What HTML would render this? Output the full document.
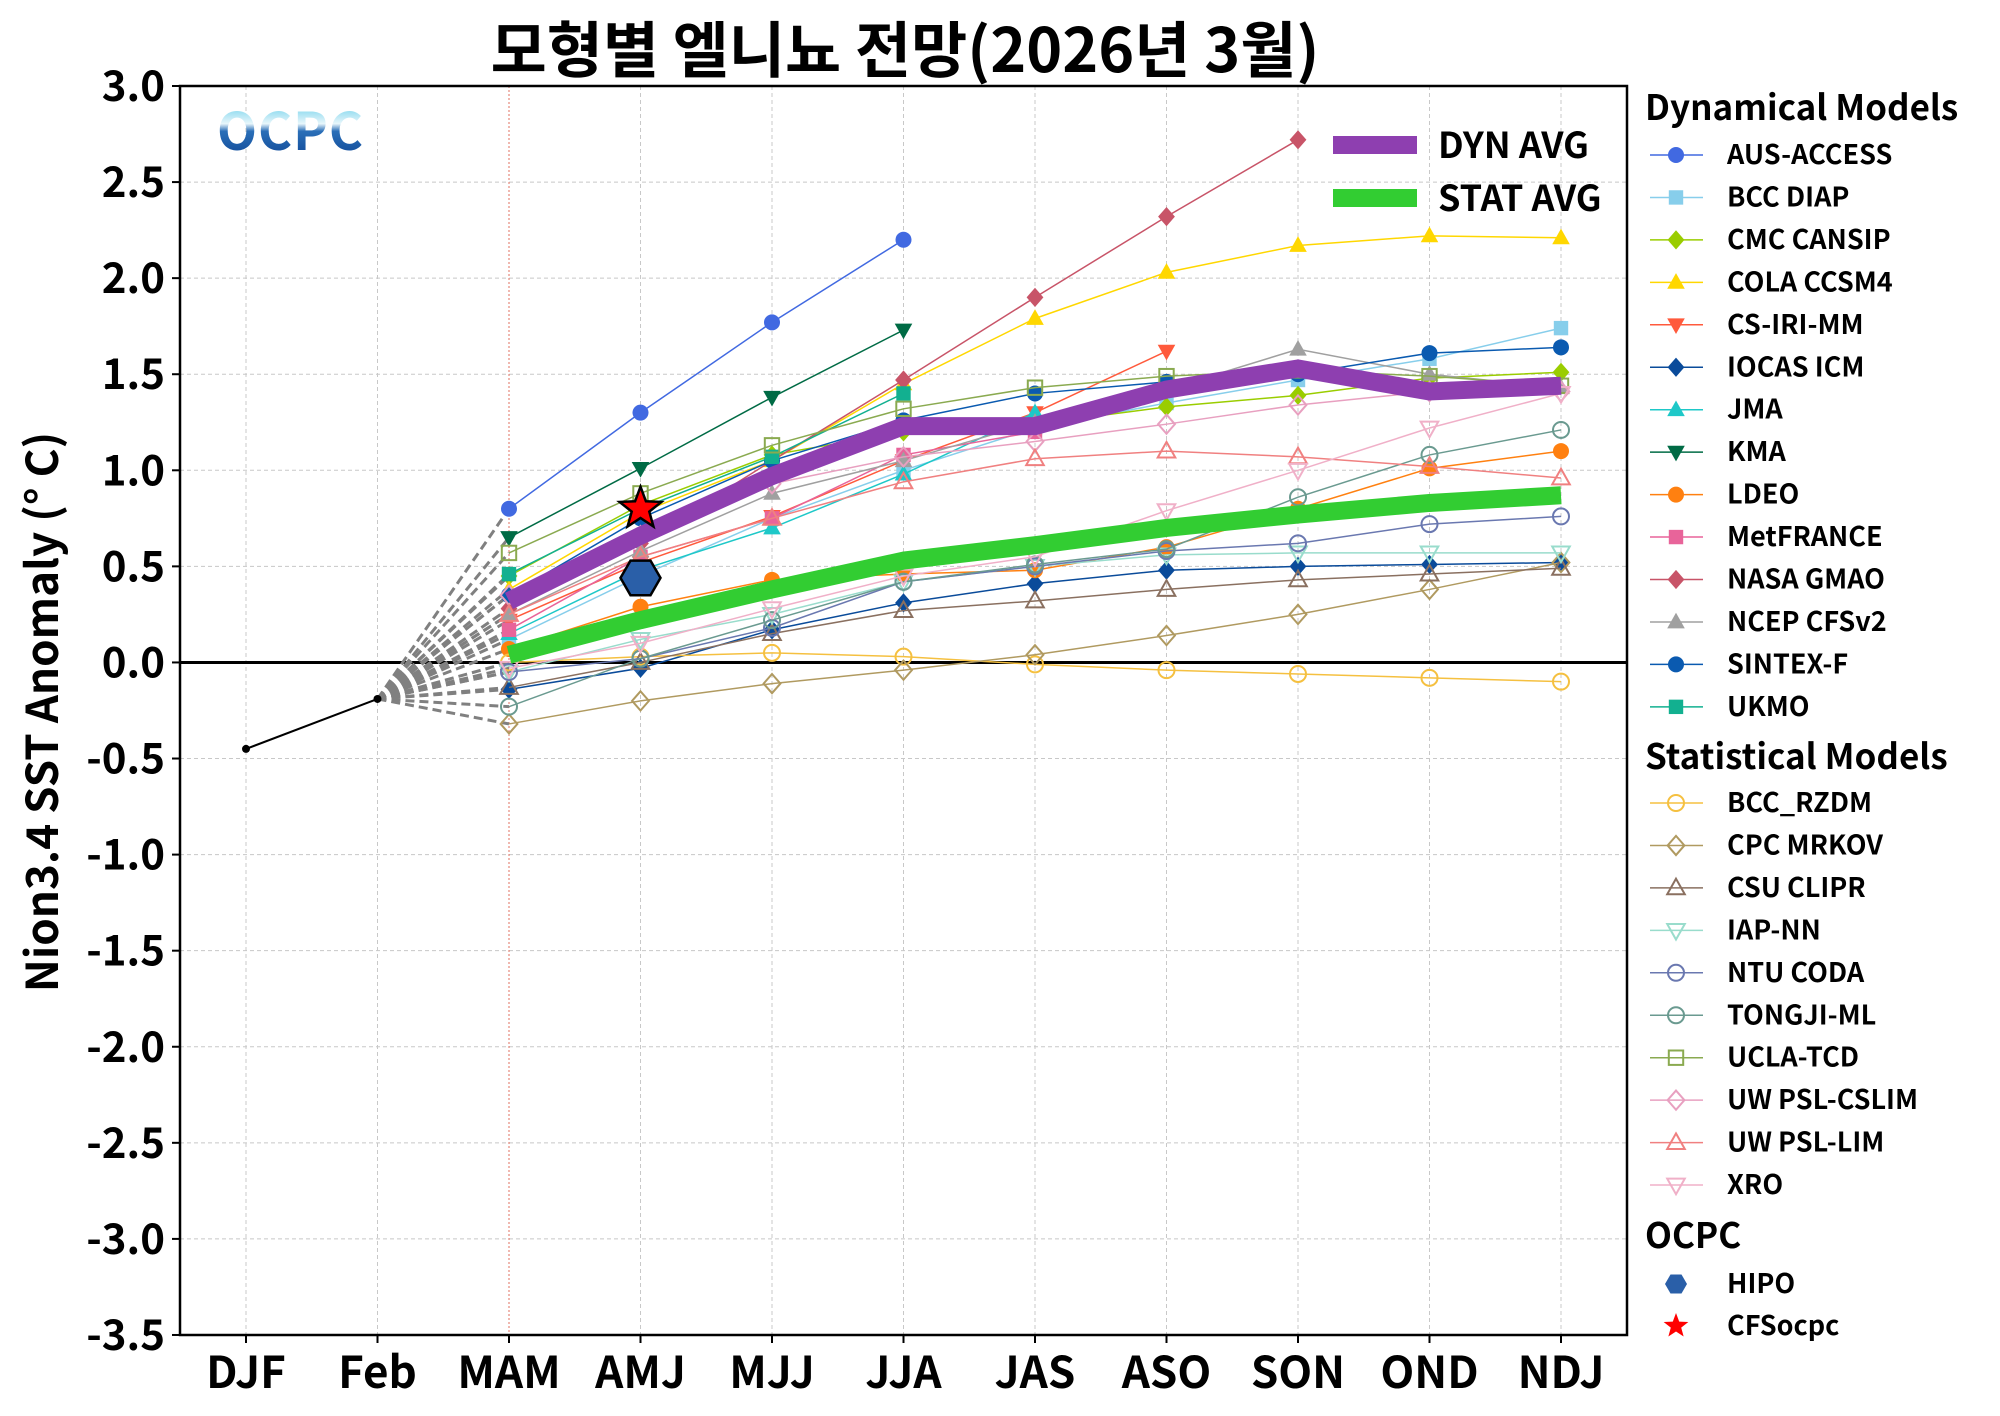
<!DOCTYPE html>
<html><head><meta charset="utf-8">
<style>
html,body{margin:0;padding:0;background:#fff;}
svg{display:block;font-family:"Noto Sans CJK KR","Liberation Sans",sans-serif;}
</style></head>
<body>
<svg id="chart" width="2000" height="1416" viewBox="0 0 2000 1416" xmlns="http://www.w3.org/2000/svg">
<defs>
<linearGradient id="logoGrad" x1="0" y1="0" x2="0" y2="1">
<stop offset="0" stop-color="#1bb8e0"/><stop offset="0.45" stop-color="#e8f6fb"/><stop offset="0.55" stop-color="#2a6fb8"/><stop offset="1" stop-color="#0a3f8f"/>
</linearGradient>
</defs>
<text x="905" y="72" text-anchor="middle" font-size="61" font-weight="bold">모형별 엘니뇨 전망(2026년 3월)</text>
<text transform="translate(58,712) rotate(-90)" text-anchor="middle" font-size="44" font-weight="bold">Nion3.4 SST Anomaly (° C)</text>
<g id="grid"></g>
<g id="axes"></g>
<g id="series"></g>
<g id="legend"></g>
<text x="217" y="150" font-size="52" font-weight="bold" fill="url(#logoGrad)" letter-spacing="1">OCPC</text>
</svg>
<script>
const categories=["DJF","Feb","MAM","AMJ","MJJ","JJA","JAS","ASO","SON","OND","NDJ"];
const yTicks=[3.0,2.5,2.0,1.5,1.0,0.5,0.0,-0.5,-1.0,-1.5,-2.0,-2.5,-3.0,-3.5];
const observed=[-0.45,-0.19];
// model values start at MAM (index 2)
const modelNames=["AUS-ACCESS","BCC DIAP","CMC CANSIP","COLA CCSM4","CS-IRI-MM","IOCAS ICM","JMA","KMA","LDEO","MetFRANCE","NASA GMAO","NCEP CFSv2","SINTEX-F","UKMO","BCC_RZDM","CPC MRKOV","CSU CLIPR","IAP-NN","NTU CODA","TONGJI-ML","UCLA-TCD","UW PSL-CSLIM","UW PSL-LIM","XRO"];
const ausAccess=[0.80,1.30,1.77,2.20];
const bccDiap=[0.12,0.45,0.75,1.00,1.22,1.35,1.47,1.58,1.74];
const cmcCansip=[0.45,0.82,1.08,1.20,1.24,1.33,1.39,1.48,1.51];
const colaCcsm4=[0.38,0.78,1.05,1.45,1.79,2.03,2.17,2.22,2.21];
const csIriMm=[0.22,0.52,0.76,1.05,1.30,1.62];
const iocasIcm=[-0.14,-0.03,0.17,0.31,0.41,0.48,0.50,0.51,0.52];
const jma=[0.15,0.48,0.70,0.98,1.30];
const kma=[0.65,1.01,1.38,1.73];
const ldeo=[0.07,0.29,0.43,0.46,0.48,0.60,0.80,1.01,1.10];
const metFrance=[0.17,0.55,0.75,1.08,1.20];
const nasaGmao=[0.28,0.62,1.05,1.47,1.90,2.32,2.72];
const ncepCfsv2=[0.25,0.58,0.88,1.05,1.25,1.42,1.63,1.50,1.43];
const sintexF=[0.35,0.75,1.05,1.26,1.40,1.46,1.50,1.61,1.64];
const ukmo=[0.46,0.80,1.07,1.40];
const bccRzdm=[0.00,0.03,0.05,0.03,-0.01,-0.04,-0.06,-0.08,-0.10];
const cpcMrkov=[-0.32,-0.20,-0.11,-0.04,0.04,0.14,0.25,0.38,0.52];
const csuClipr=[-0.13,0.00,0.15,0.27,0.32,0.38,0.43,0.46,0.49];
const iapNn=[-0.05,0.12,0.25,0.42,0.50,0.56,0.57,0.57,0.57];
const ntuCoda=[-0.05,0.02,0.18,0.42,0.50,0.58,0.62,0.72,0.76];
const tongjiMl=[-0.23,0.02,0.22,0.42,0.51,0.59,0.86,1.08,1.21];
const uclaTcd=[0.57,0.88,1.13,1.32,1.43,1.49,1.52,1.49,1.44];
const uwCslim=[0.35,0.66,0.93,1.07,1.15,1.24,1.34,1.41,1.41];
const uwLim=[0.25,0.55,0.75,0.94,1.06,1.10,1.07,1.02,0.96];
const xro=[-0.03,0.10,0.28,0.45,0.55,0.79,1.00,1.22,1.40];
const dynAvg=[0.32,0.66,0.97,1.23,1.23,1.42,1.53,1.41,1.44];
const statAvg=[0.04,0.22,0.38,0.53,0.61,0.70,0.77,0.83,0.87];
const hipo=[0.44];
const cfsOcpc=[0.80];

const modelValues=[ausAccess,bccDiap,cmcCansip,colaCcsm4,csIriMm,iocasIcm,jma,kma,ldeo,metFrance,nasaGmao,ncepCfsv2,sintexF,ukmo,bccRzdm,cpcMrkov,csuClipr,iapNn,ntuCoda,tongjiMl,uclaTcd,uwCslim,uwLim,xro];
const styles=[
["#4169e1","o",1],["#87ceeb","s",1],["#9acd00","d",1],["#ffd700","^",1],["#ff5a3c","v",1],["#0a4b9a","d",1],["#1ec8c8","^",1],["#006b45","v",1],["#ff8010","o",1],["#e8649a","s",1],["#c85468","d",1],["#a0a0a0","^",1],["#0a5ab0","o",1],["#12b090","s",1],
["#f5c040","o",0],["#b09a60","d",0],["#8a7060","^",0],["#99dccc","v",0],["#6a78b0","o",0],["#6a9a90","o",0],["#8aaa50","s",0],["#e8a0c0","d",0],["#f08080","^",0],["#f0b0c8","v",0]];

const X0=246,DX=131.5,YTOP=86,PPU=192.15;
const xs=i=>X0+DX*i;
const ys=v=>YTOP+(3-v)*PPU;
const NS="http://www.w3.org/2000/svg";
function mk(tag,attrs,parent){const e=document.createElementNS(NS,tag);for(const k in attrs)e.setAttribute(k,attrs[k]);parent.appendChild(e);return e;}
function marker(parent,type,cx,cy,r,color,filled){
  const fill=filled?color:"none",stroke=color,sw=filled?0:2;
  let e;
  if(type==="o")e=mk("circle",{cx:cx,cy:cy,r:r,fill:fill,stroke:stroke,"stroke-width":sw},parent);
  else if(type==="s")e=mk("rect",{x:cx-r*0.9,y:cy-r*0.9,width:r*1.8,height:r*1.8,fill:fill,stroke:stroke,"stroke-width":sw},parent);
  else if(type==="d")e=mk("polygon",{points:`${cx},${cy-r*1.2} ${cx+r*1.05},${cy} ${cx},${cy+r*1.2} ${cx-r*1.05},${cy}`,fill:fill,stroke:stroke,"stroke-width":sw},parent);
  else if(type==="^")e=mk("polygon",{points:`${cx},${cy-r*1.15} ${cx+r*1.1},${cy+r*0.8} ${cx-r*1.1},${cy+r*0.8}`,fill:fill,stroke:stroke,"stroke-width":sw},parent);
  else e=mk("polygon",{points:`${cx},${cy+r*1.15} ${cx+r*1.1},${cy-r*0.8} ${cx-r*1.1},${cy-r*0.8}`,fill:fill,stroke:stroke,"stroke-width":sw},parent);
  return e;
}
const grid=document.getElementById("grid"),axes=document.getElementById("axes"),ser=document.getElementById("series"),leg=document.getElementById("legend");
const R=1627,B=1335;
yTicks.forEach(v=>{
  const y=ys(v);
  const g=mk("line",{x1:180,x2:R,y1:y,y2:y,stroke:"#c8c8c8","stroke-width":1,"stroke-dasharray":"4,3"},grid);
  
  
  const t=mk("line",{x1:172,x2:180,y1:y,y2:y,stroke:"#000","stroke-width":2},axes);
  
  
  const l=mk("text",{x:165,y:y+15,"text-anchor":"end","font-size":42,"font-weight":"bold"},axes);
  l.textContent=v.toFixed(1);
  
  
});
categories.forEach((c,i)=>{
  const x=xs(i);
  const g=mk("line",{x1:x,x2:x,y1:YTOP,y2:B,stroke:i===2?"#e07060":"#c8c8c8","stroke-width":1,"stroke-dasharray":i===2?"2,2":"4,3"},grid);
  
  
  const t=mk("line",{x1:x,x2:x,y1:B,y2:B+8,stroke:"#000","stroke-width":2},axes);
  
  
  const l=mk("text",{x:x,y:1388,"text-anchor":"middle","font-size":44,"font-weight":"bold"},axes);
  l.textContent=c;
  
  
});
const frame=mk("rect",{x:180,y:YTOP,width:R-180,height:B-YTOP,fill:"none",stroke:"#000","stroke-width":2.5},axes);


const zl=mk("line",{x1:180,x2:R,y1:ys(0),y2:ys(0),stroke:"#000","stroke-width":3},grid);


modelValues.forEach(vals=>{
  const d=mk("line",{x1:xs(1),y1:ys(observed[1]),x2:xs(2),y2:ys(vals[0]),stroke:"#808080","stroke-width":3,"stroke-dasharray":"9,5"},ser);
  
  
});
const ob=mk("polyline",{points:observed.map((v,i)=>xs(i)+","+ys(v)).join(" "),fill:"none",stroke:"#000","stroke-width":2},ser);


observed.forEach((v,i)=>{const c=mk("circle",{cx:xs(i),cy:ys(v),r:4,fill:"#000"},ser);

});
modelValues.forEach((vals,k)=>{
  const [col,typ,filled]=styles[k];
  const g=mk("g",{},ser);
  
  
  mk("polyline",{points:vals.map((v,i)=>xs(i+2)+","+ys(v)).join(" "),fill:"none",stroke:col,"stroke-width":1.5},g);
  vals.forEach((v,i)=>marker(g,typ,xs(i+2),ys(v),8,col,filled));
});
const sa=mk("polyline",{points:statAvg.map((v,i)=>xs(i+2)+","+ys(v)).join(" "),fill:"none",stroke:"#32cd32","stroke-width":18,"stroke-linejoin":"round"},ser);


const da=mk("polyline",{points:dynAvg.map((v,i)=>xs(i+2)+","+ys(v)).join(" "),fill:"none",stroke:"#8e3fb0","stroke-width":18,"stroke-linejoin":"miter"},ser);


function hexPts(cx,cy,r){let p=[];for(let a=0;a<6;a++){const t=Math.PI/3*a;p.push((cx+r*Math.cos(t))+","+(cy+r*Math.sin(t)));}return p.join(" ");}
function starPts(cx,cy,r){let p=[];for(let a=0;a<10;a++){const rr=a%2?r*0.42:r;const t=-Math.PI/2+Math.PI/5*a;p.push((cx+rr*Math.cos(t))+","+(cy+rr*Math.sin(t)));}return p.join(" ");}
const hx=mk("polygon",{points:hexPts(xs(3),ys(hipo[0]),20),fill:"#2a5fa8",stroke:"#000","stroke-width":2.5},ser);


const st=mk("polygon",{points:starPts(xs(3),ys(cfsOcpc[0]),22),fill:"#ff0000",stroke:"#000","stroke-width":2.5},ser);


[["DYN AVG","#8e3fb0",145],["STAT AVG","#32cd32",198]].forEach(([n,c,y])=>{
  const l=mk("line",{x1:1333,x2:1417,y1:y,y2:y,stroke:c,"stroke-width":18},leg);
  
  
  const t=mk("text",{x:1438,y:y+13,"font-size":36,"font-weight":"bold"},leg);
  t.textContent=n;
  
  
});
function header(txt,y){const t=mk("text",{x:1645,y:y,"font-size":35,"font-weight":"bold"},leg);t.textContent=txt;

}
header("Dynamical Models",120);
header("Statistical Models",769);
header("OCPC",1248);
modelNames.forEach((n,k)=>{
  const y=k<14?155+42.45*k:803+42.45*(k-14);
  const [col,typ,filled]=styles[k];
  const g=mk("g",{},leg);
  
  
  mk("line",{x1:1650,x2:1703,y1:y,y2:y,stroke:col,"stroke-width":1.5},g);
  marker(g,typ,1676,y,8,col,filled);
  const t=mk("text",{x:1727,y:y+9,"font-size":27,"font-weight":"bold"},g);
  t.textContent=n;
});
const hg=mk("g",{},leg);


mk("polygon",{points:hexPts(1676,1284,11),fill:"#2a5fa8"},hg);
mk("text",{x:1727,y:1293,"font-size":27,"font-weight":"bold"},hg).textContent="HIPO";
const sg=mk("g",{},leg);


mk("polygon",{points:starPts(1676,1326,13),fill:"#ff0000"},sg);
mk("text",{x:1727,y:1335,"font-size":27,"font-weight":"bold"},sg).textContent="CFSocpc";
</script>
</body></html>
